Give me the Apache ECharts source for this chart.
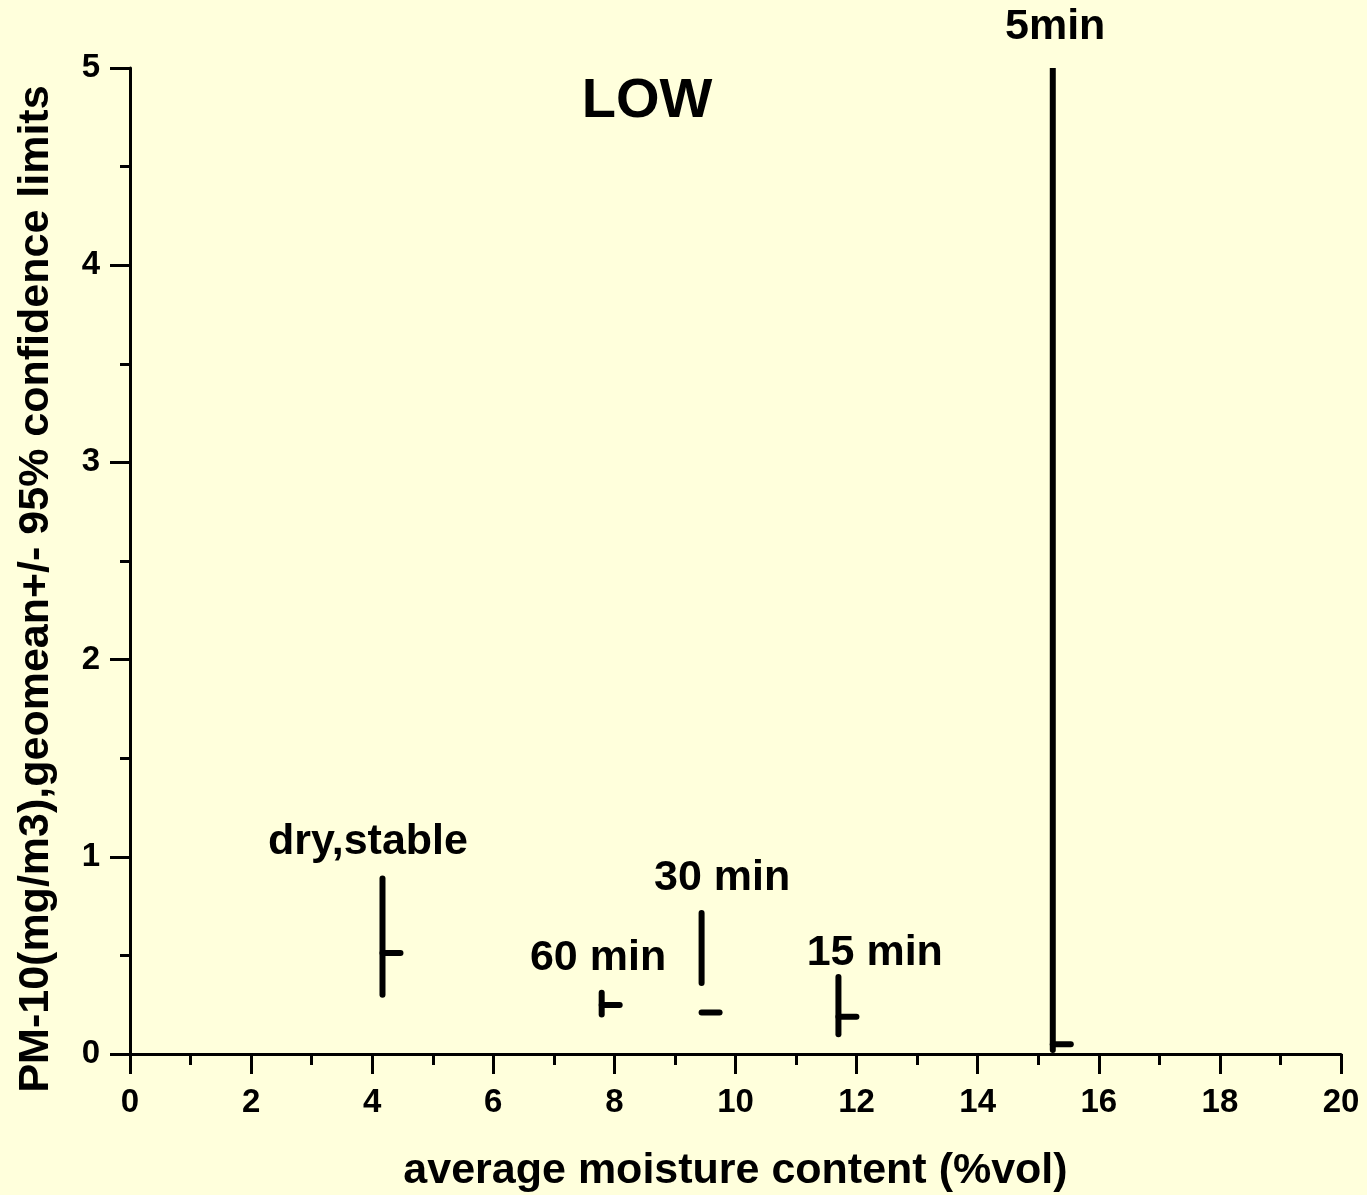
<!DOCTYPE html>
<html>
<head>
<meta charset="utf-8">
<script src="https://cdn.jsdelivr.net/npm/echarts@6/dist/echarts.min.js"></script>
<style>
html,body{margin:0;padding:0;background:#FFFFDC;}
#chart{width:1367px;height:1195px;}
</style>
</head>
<body>
<div id="chart"></div>
<script>
// ---- data ----
var groups   = ['dry,stable', '60 min', '30 min', '15 min', '5min'];
var moisture = [4.17, 7.79, 9.44, 11.70, 15.24];
var highs    = [0.89, 0.31, 0.715, 0.39, 5.5];
var lows     = [0.30, 0.20, 0.36, 0.10, 0.02];
var means    = [0.512, 0.248, 0.21, 0.189, 0.05];

var labelTexts = ['dry,stable', '60 min', '30 min', '15 min', '5min', 'LOW'];
var labelX     = [3.93, 7.73, 9.78, 12.30, 15.28, 8.54];
var labelY     = [1.075, 0.487, 0.893, 0.512, 5.205, 4.83];

var xTicks = [0, 2, 4, 6, 8, 10, 12, 14, 16, 18, 20];
var yTicks = [0, 1, 2, 3, 4, 5];

var FONT = '"Liberation Sans", Arial, sans-serif';

var hlcData = moisture.map(function (x, i) { return [x, lows[i], highs[i], means[i]]; });
var labelData = labelX.map(function (x, i) { return [x, labelY[i]]; });

var chart = echarts.init(document.getElementById('chart'), null, {renderer: 'canvas'});
chart.setOption({
  animation: false,
  backgroundColor: '#FFFFDC',
  grid: {left: 130, right: 26, top: 68, bottom: 141, containLabel: false, outerBoundsMode: 'none'},
  xAxis: {
    type: 'value', min: xTicks[0], max: xTicks[xTicks.length - 1], interval: 2,
    name: 'average moisture content (%vol)',
    nameLocation: 'middle', nameGap: 96,
    nameTextStyle: {fontFamily: FONT, fontWeight: 'bold', fontSize: 43, color: '#000'},
    axisLine: {show: true, onZero: false, lineStyle: {color: '#000', width: 3}},
    axisTick: {show: true, inside: false, length: 20, lineStyle: {color: '#000', width: 3}},
    minorTick: {show: true, splitNumber: 2, length: 11, lineStyle: {color: '#000', width: 3}},
    axisLabel: {margin: 32, fontFamily: FONT, fontWeight: 'bold', fontSize: 33, color: '#000'},
    splitLine: {show: false}
  },
  yAxis: {
    type: 'value', min: yTicks[0], max: yTicks[yTicks.length - 1], interval: 1,
    axisLine: {show: true, onZero: false, lineStyle: {color: '#000', width: 3}},
    axisTick: {show: true, inside: false, length: 20, lineStyle: {color: '#000', width: 3}},
    minorTick: {show: true, splitNumber: 2, length: 10, lineStyle: {color: '#000', width: 3}},
    axisLabel: {margin: 30, fontFamily: FONT, fontWeight: 'bold', fontSize: 33, color: '#000'},
    splitLine: {show: false}
  },
  graphic: [{
    type: 'text',
    x: 36, y: 589,
    rotation: Math.PI / 2,
    style: {
      text: 'PM-10(mg/m3),geomean+/- 95% confidence limits',
      font: 'bold 43px ' + FONT,
      fill: '#000',
      textAlign: 'center', textVerticalAlign: 'middle'
    }
  }],
  series: [{
    type: 'custom',
    clip: true,
    data: hlcData,
    encode: {x: 0, y: [1, 2, 3]},
    renderItem: function (params, api) {
      var x = api.value(0);
      var lo = api.coord([x, api.value(1)]);
      var hi = api.coord([x, api.value(2)]);
      var mn = api.coord([x, api.value(3)]);
      var st = {stroke: '#000', lineWidth: 6, lineCap: 'round'};
      return {
        type: 'group',
        children: [
          {type: 'line', shape: {x1: lo[0], y1: lo[1], x2: hi[0], y2: hi[1]}, style: st},
          {type: 'line', shape: {x1: mn[0], y1: mn[1], x2: mn[0] + 18, y2: mn[1]}, style: st}
        ]
      };
    }
  }, {
    type: 'custom',
    clip: false,
    data: labelData,
    encode: {x: 0, y: 1},
    z: 5,
    renderItem: function (params, api) {
      var p = api.coord([api.value(0), api.value(1)]);
      var txt = labelTexts[params.dataIndex];
      var size = txt === 'LOW' ? 56 : 43;
      return {
        type: 'text',
        x: p[0], y: p[1],
        style: {
          text: txt,
          font: 'bold ' + size + 'px ' + FONT,
          fill: '#000',
          textAlign: 'center', textVerticalAlign: 'middle'
        }
      };
    }
  }]
});
</script>
</body>
</html>
